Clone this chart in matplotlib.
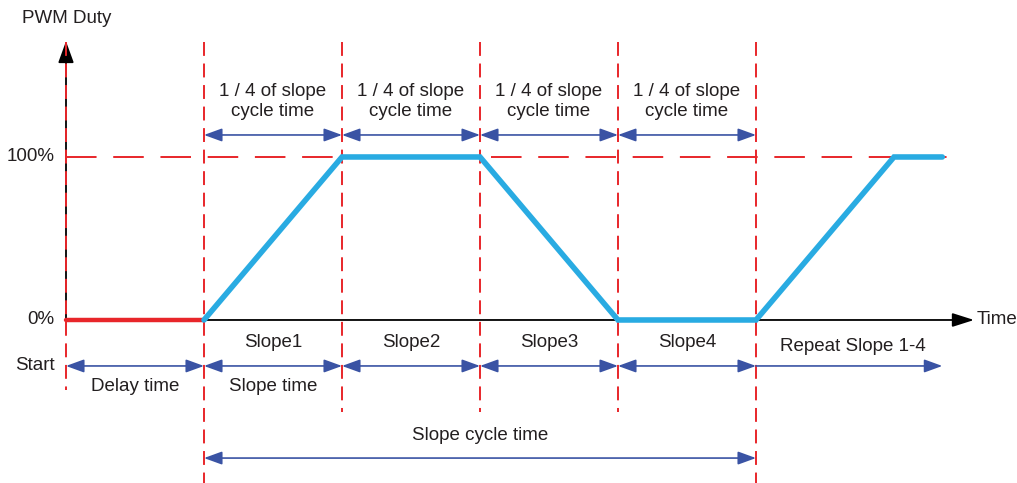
import matplotlib.pyplot as plt

plt.rcParams['font.family'] = ['Liberation Sans', 'DejaVu Sans']
plt.rcParams['lines.scale_dashes'] = False

# time axis in units of "1/4 slope cycle", duty in %
edges = [0, 1, 2, 3, 4, 5]
delay_t = [0, 1]
delay_v = [0, 0]
duty_t = [1, 2, 3, 4, 5, 6, 6.35]
duty_v = [0, 100, 100, 0, 0, 100, 100]
slope_names = ['Slope1', 'Slope2', 'Slope3', 'Slope4']
quarter_label = '1 / 4 of slope\ncycle time'
tick_vals = [0, 100]
tick_labels = ['0%', '100%']
t_end = 6.48
repeat_end = 6.35

RED = '#E8262A'
BLUE = '#29ABE2'
NAVY = '#3A53A4'
TXT = '#231F20'
FS = 13.5

fig = plt.figure(figsize=(10.17, 4.83), dpi=100)
ax = fig.add_axes([0, 0, 1, 1])
ax.set_xlim(-66/138, (1017-66)/138)
ax.set_ylim(-100, 196.3)
ax.axis('off')

def hline_arrow(x0, x1, y, style='<|-|>'):
    ax.annotate('', xy=(x1, y), xytext=(x0, y),
                arrowprops=dict(arrowstyle=style + ',head_length=1.1,head_width=0.4',
                                mutation_scale=10, color=NAVY, lw=1.2,
                                shrinkA=0, shrinkB=0))

# axes
ax.annotate('', xy=(0, 171), xytext=(0, 0),
            arrowprops=dict(arrowstyle='-|>,head_length=1.1,head_width=0.4',
                            mutation_scale=12, color='black', lw=1.3,
                            shrinkA=0, shrinkB=0), zorder=1)
ax.annotate('', xy=(t_end + 0.1, 0), xytext=(0, 0),
            arrowprops=dict(arrowstyle='-|>,head_length=1.1,head_width=0.35',
                            mutation_scale=12, color='black', lw=1.3,
                            shrinkA=0, shrinkB=0), zorder=1)

# red dashed guides
ax.plot([0, t_end], [100, 100], color=RED, lw=1.4, dashes=(22, 12), zorder=3)
bottoms = [-43, -100, -56.4, -56.4, -56.4, -100]
for e, b in zip(edges, bottoms):
    ax.plot([e, e], [170.5, b], color=RED, lw=1.4, dashes=(10, 5.5), zorder=3)

# duty waveform
ax.plot(delay_t, delay_v, color=RED, lw=3.2, solid_capstyle='round', zorder=5)
ax.plot(duty_t, duty_v, color=BLUE, lw=4, solid_capstyle='round',
        solid_joinstyle='miter', zorder=6)

# quarter arrows + labels
for i in range(1, 5):
    hline_arrow(edges[i], edges[i+1], 113.5)
    ax.text((edges[i] + edges[i+1]) / 2, 134, quarter_label, ha='center',
            va='center', fontsize=FS, color=TXT, linespacing=1.25)

# lower arrows
hline_arrow(0, 1, -28.2)
for i in range(1, 5):
    hline_arrow(edges[i], edges[i+1], -28.2)
    ax.text((edges[i] + edges[i+1]) / 2, -14, slope_names[i-1], ha='center',
            va='center', fontsize=FS, color=TXT)
hline_arrow(5, repeat_end, -28.2, style='-|>')
ax.text((5 + repeat_end) / 2 + 0.03, -16, 'Repeat Slope 1-4', ha='center',
        va='center', fontsize=FS, color=TXT)
ax.text(0.5, -41, 'Delay time', ha='center', va='center', fontsize=FS, color=TXT)
ax.text(1.5, -41, 'Slope time', ha='center', va='center', fontsize=FS, color=TXT)

hline_arrow(1, 5, -84.7)
ax.text(3, -71, 'Slope cycle time', ha='center', va='center', fontsize=FS, color=TXT)

# axis labels
for v, lab in zip(tick_vals, tick_labels):
    ax.text(-0.085, v, lab, ha='right', va='center', fontsize=FS, color=TXT)
ax.text(-0.225, -28.2, 'Start', ha='center', va='center', fontsize=FS, color=TXT)
ax.text(-0.32, 185, 'PWM Duty', ha='left', va='center', fontsize=FS, color=TXT)
ax.text(6.6, 0, 'Time', ha='left', va='center', fontsize=FS, color=TXT)

fig.savefig('out.png', dpi=100)
